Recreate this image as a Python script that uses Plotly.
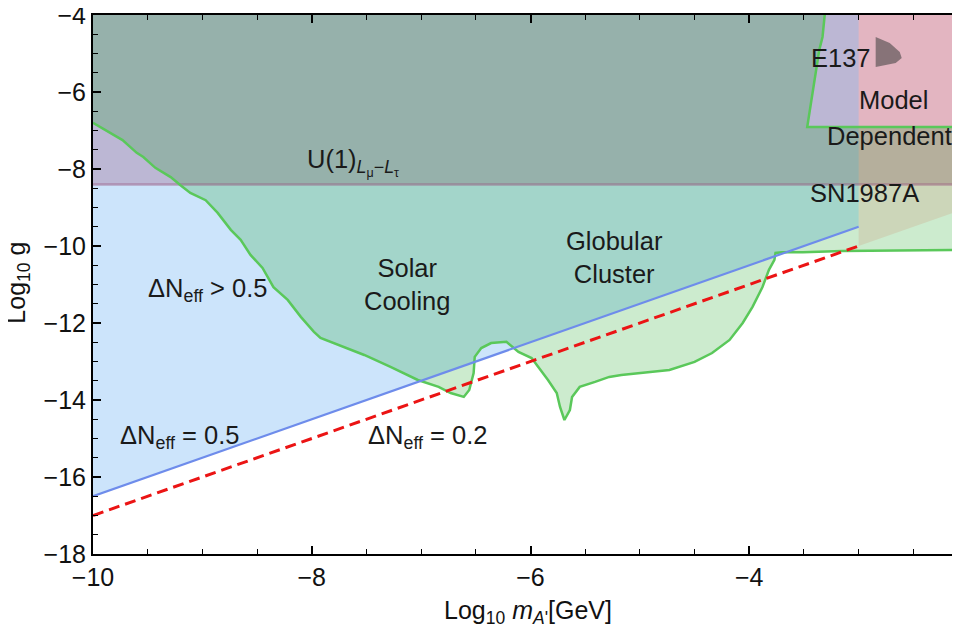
import plotly.graph_objects as go

# ---- data ----
# stellar-cooling bound (Solar Cooling / Globular Cluster / SN1987A) lower edge
green_lo_x = [-10.0, -9.73, -9.60, -9.54, -9.43, -9.29, -9.20, -9.11, -8.97, -8.86, -8.74, -8.65,
              -8.56, -8.45, -8.35, -8.22, -8.10, -7.98, -7.92, -7.76, -7.52, -7.28, -7.03, -6.84,
              -6.73, -6.61, -6.56, -6.52, -6.51, -6.45, -6.36, -6.22, -6.11, -5.99, -5.93, -5.84,
              -5.76, -5.73, -5.69, -5.64, -5.62, -5.55, -5.41, -5.28, -5.17, -4.98, -4.73, -4.50,
              -4.34, -4.18, -4.06, -3.97, -3.88, -3.82, -3.77, -3.76, -3.70, -3.51, -3.15, -2.0]
green_lo_y = [-6.80, -7.25, -7.58, -7.69, -7.97, -8.21, -8.42, -8.62, -8.81, -9.14, -9.58, -9.84,
              -10.23, -10.57, -11.07, -11.40, -11.84, -12.23, -12.39, -12.57, -12.83, -13.14, -13.48, -13.66,
              -13.82, -13.92, -13.74, -13.30, -12.88, -12.65, -12.52, -12.49, -12.75, -12.91, -13.14, -13.48,
              -13.82, -14.18, -14.52, -14.26, -13.92, -13.66, -13.53, -13.40, -13.35, -13.30, -13.22, -13.01,
              -12.78, -12.44, -12.00, -11.58, -11.07, -10.62, -10.36, -10.18, -10.16, -10.16, -10.13, -10.10]
# upper-right cut-out edge of the same bound
green_up_x = [-3.31, -3.33, -3.36, -3.40, -3.42, -3.45, -3.47, -2.0]
green_up_y = [-4.00, -4.57, -4.91, -5.61, -6.03, -6.47, -6.91, -6.91]

# Delta N_eff lines
dn05_x = [-10.0, -3.0]
dn05_y = [-16.5, -9.5]
dn02_x = [-10.0, -3.0]
dn02_y = [-17.0, -10.0]

# U(1)_{Lmu-Ltau} bound
u1_x = [-10.0, -2.0]
u1_g = -8.4

# model-dependent region
md_x = [-3.0, -2.0, -2.0, -3.0]
md_y = [-10.0, -9.0, -4.0, -4.0]

# E137 region
e137_x = [-2.844, -2.716, -2.624, -2.606, -2.661, -2.844]
e137_y = [-4.571, -4.727, -4.961, -5.117, -5.247, -5.351]

YTOP = -4.0

fig = go.Figure()

# blue region: Delta N_eff > 0.5
fig.add_trace(go.Scatter(x=dn05_x + dn05_x[::-1], y=dn05_y + [YTOP, YTOP], fill="toself",
                         fillcolor="rgba(0,120,235,0.2)", line=dict(width=0), mode="lines",
                         hoverinfo="skip", showlegend=False))
# U(1) region
fig.add_trace(go.Scatter(x=[u1_x[0], u1_x[1], u1_x[1], u1_x[0]], y=[u1_g, u1_g, YTOP, YTOP],
                         fill="toself", fillcolor="rgba(151,81,124,0.3)", line=dict(width=0),
                         mode="lines", hoverinfo="skip", showlegend=False))
# model dependent region
fig.add_trace(go.Scatter(x=md_x, y=md_y, fill="toself", fillcolor="rgba(255,0,0,0.1)",
                         line=dict(width=0), mode="lines", hoverinfo="skip", showlegend=False))
# stellar bounds region
gx = green_lo_x + green_up_x[::-1] + [-10.0]
gy = green_lo_y + green_up_y[::-1] + [YTOP]
fig.add_trace(go.Scatter(x=gx, y=gy, fill="toself", fillcolor="rgba(0,153,10,0.2)",
                         line=dict(width=0), mode="lines", hoverinfo="skip", showlegend=False))
# E137
fig.add_trace(go.Scatter(x=e137_x, y=e137_y, fill="toself", fillcolor="rgba(60,60,60,0.55)",
                         line=dict(width=0), mode="lines", hoverinfo="skip", showlegend=False))

# boundary lines
fig.add_trace(go.Scatter(x=u1_x, y=[u1_g, u1_g], mode="lines",
                         line=dict(color="rgba(151,81,124,0.45)", width=2.5), showlegend=False))
fig.add_trace(go.Scatter(x=green_lo_x, y=green_lo_y, mode="lines",
                         line=dict(color="rgb(90,200,90)", width=2.5), showlegend=False))
fig.add_trace(go.Scatter(x=green_up_x, y=green_up_y, mode="lines",
                         line=dict(color="rgb(90,200,90)", width=2.5), showlegend=False))
fig.add_trace(go.Scatter(x=dn05_x, y=dn05_y, mode="lines",
                         line=dict(color="rgb(110,140,235)", width=2.2), showlegend=False))
fig.add_trace(go.Scatter(x=dn02_x, y=dn02_y, mode="lines",
                         line=dict(color="rgb(235,20,20)", width=3, dash="11px,6px"), showlegend=False))

FONT = "Liberation Sans, Arial, sans-serif"
ann_font = dict(family=FONT, size=25.5, color="#1a1a1a")
annotations = [
    dict(x=-8.06, y=-7.82, text="U(1)<sub><i>L</i><sub>μ</sub>−<i>L</i><sub>τ</sub></sub>", xanchor="left"),
    dict(x=-8.95, y=-11.14, text="ΔN<sub>eff</sub> > 0.5", xanchor="center"),
    dict(x=-7.13, y=-11.01, text="Solar<br>Cooling", xanchor="center"),
    dict(x=-5.23, y=-10.31, text="Globular<br>Cluster", xanchor="center"),
    dict(x=-9.77, y=-14.96, text="ΔN<sub>eff</sub> = 0.5", xanchor="left"),
    dict(x=-7.50, y=-14.96, text="ΔN<sub>eff</sub> = 0.2", xanchor="left"),
    dict(x=-2.95, y=-8.62, text="SN1987A", xanchor="center"),
    dict(x=-2.68, y=-6.21, text="Model", xanchor="center"),
    dict(x=-2.72, y=-7.14, text="Dependent", xanchor="center"),
    dict(x=-3.16, y=-5.12, text="E137", xanchor="center"),
]
for a in annotations:
    fig.add_annotation(x=a["x"], y=a["y"], text=a["text"], xanchor=a["xanchor"], yanchor="middle",
                       showarrow=False, font=ann_font, xref="x", yref="y")

# axis titles placed as paper annotations
fig.add_annotation(x=0.497, y=-0.108, xref="paper", yref="paper", xanchor="center", yanchor="middle",
                   text="Log<sub>10</sub> <i>m</i><sub><i>A</i>'</sub>[GeV]", showarrow=False,
                   font=dict(family=FONT, size=25, color="#111"))
fig.add_annotation(x=-0.086, y=0.503, xref="paper", yref="paper", xanchor="center", yanchor="middle",
                   text="Log<sub>10</sub> g", textangle=-90, showarrow=False,
                   font=dict(family=FONT, size=25, color="#111"))

axis_common = dict(showgrid=False, zeroline=False, showline=True, linecolor="black", linewidth=2,
                   mirror="ticks", ticks="inside", ticklen=8, tickwidth=1.5, tickcolor="black",
                   tickfont=dict(family=FONT, size=25, color="#111"), dtick=2, automargin=False,
                   ticklabeloverflow="allow",
                   minor=dict(ticks="inside", ticklen=5, tickwidth=1.2, tickcolor="black", dtick=0.5))

fig.update_xaxes(range=[-10, -2], tick0=-10, **axis_common)
fig.update_yaxes(range=[-18, -4], tick0=-18, **axis_common)

# the page body adds an 8px offset, so margins are chosen to land the frame where the reference has it
fig.update_layout(width=960, height=632, margin=dict(l=85, r=0, t=7, b=86, autoexpand=False),
                  plot_bgcolor="white", paper_bgcolor="white", showlegend=False)

fig.write_html("out.html")
